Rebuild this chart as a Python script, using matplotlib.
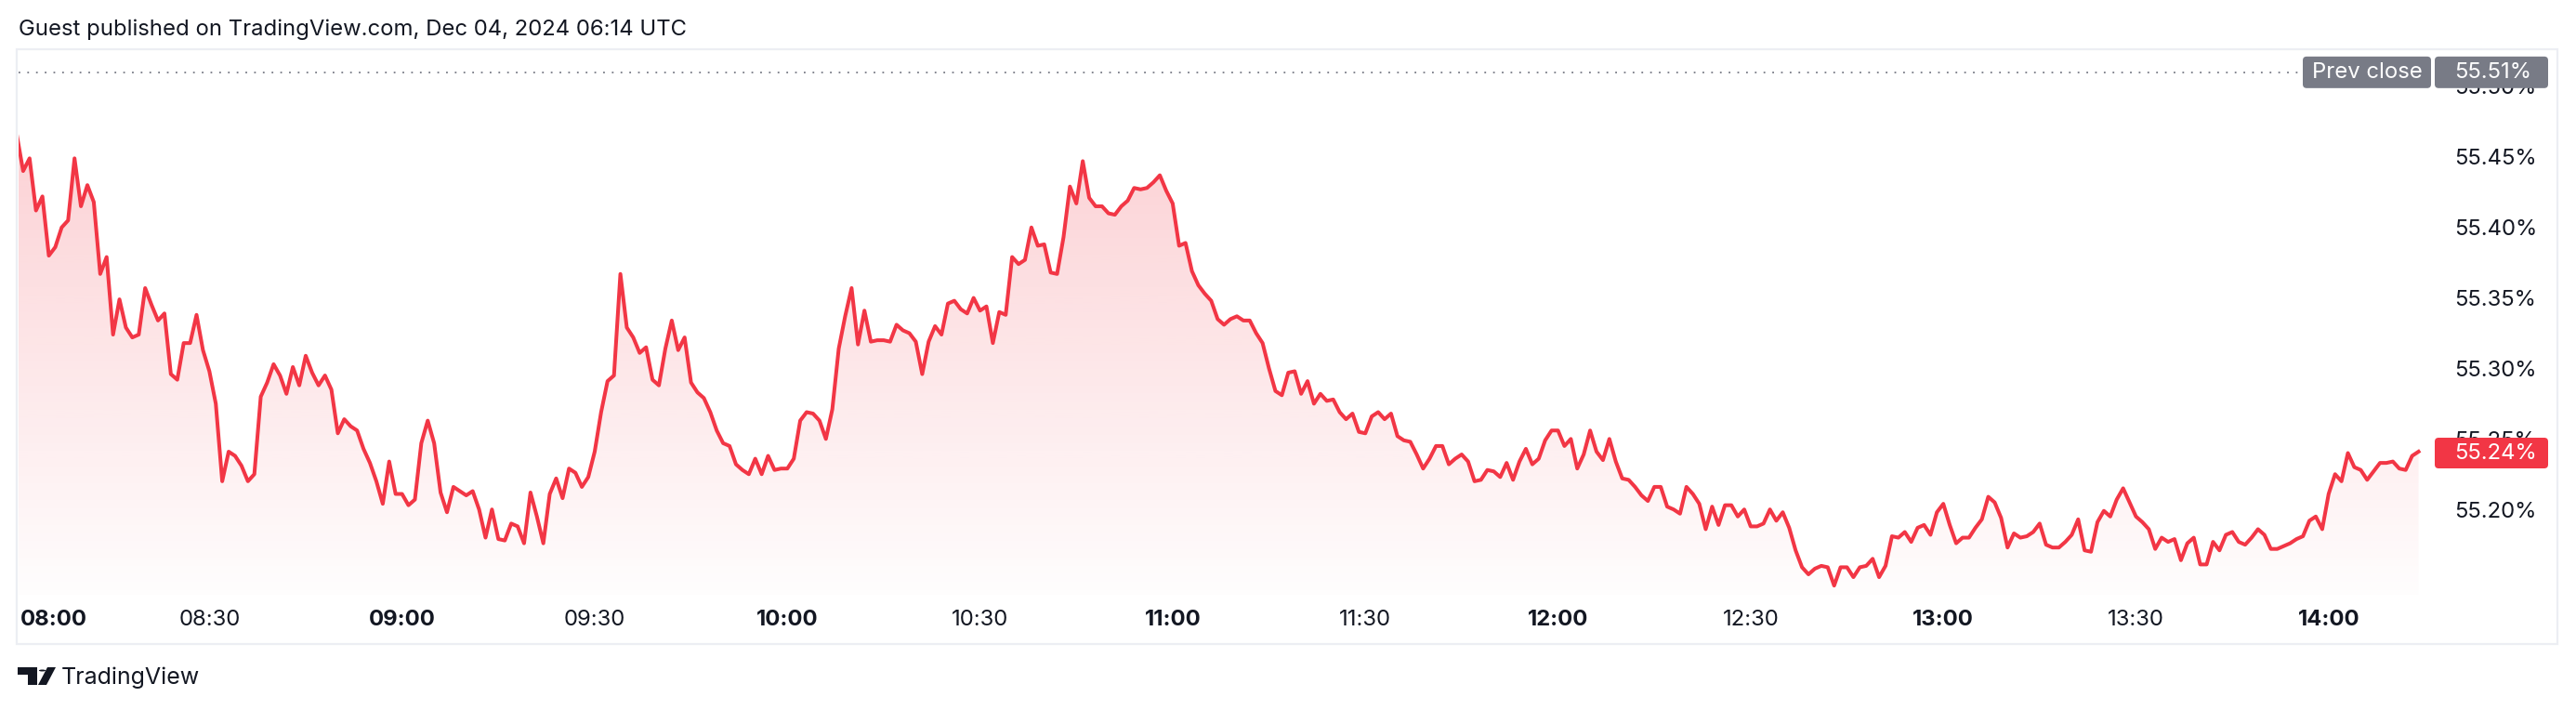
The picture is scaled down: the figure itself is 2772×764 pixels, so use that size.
import numpy as np
import matplotlib.pyplot as plt
from matplotlib.patches import FancyBboxPatch, Polygon

plt.rcParams['font.family'] = ['Inter', 'DejaVu Sans']

# 1-minute closes from 08:00 (local time)
values = [
    55.466, 55.440, 55.449, 55.412, 55.422, 55.380, 55.386, 55.400, 55.405, 55.449,
    55.415, 55.430, 55.418, 55.367, 55.379, 55.324, 55.349, 55.329, 55.322, 55.324,
    55.357, 55.345, 55.334, 55.339, 55.296, 55.292, 55.318, 55.318, 55.338, 55.313,
    55.298, 55.275, 55.220, 55.241, 55.238, 55.231, 55.220, 55.225, 55.280, 55.290,
    55.303, 55.295, 55.282, 55.301, 55.288, 55.309, 55.297, 55.288, 55.295, 55.285,
    55.254, 55.264, 55.259, 55.256, 55.243, 55.233, 55.220, 55.204, 55.234, 55.211,
    55.211, 55.203, 55.207, 55.247, 55.263, 55.247, 55.212, 55.198, 55.216, 55.213,
    55.210, 55.213, 55.200, 55.180, 55.200, 55.179, 55.178, 55.190, 55.188, 55.176,
    55.212, 55.195, 55.176, 55.211, 55.222, 55.208, 55.229, 55.226, 55.216, 55.223,
    55.241, 55.269, 55.291, 55.295, 55.367, 55.329, 55.322, 55.311, 55.315, 55.292,
    55.288, 55.314, 55.334, 55.313, 55.322, 55.290, 55.283, 55.279, 55.269, 55.256,
    55.247, 55.245, 55.232, 55.228, 55.225, 55.236, 55.225, 55.238, 55.228, 55.229,
    55.229, 55.236, 55.263, 55.269, 55.268, 55.263, 55.250, 55.271, 55.314, 55.337,
    55.357, 55.317, 55.341, 55.319, 55.320, 55.320, 55.319, 55.331, 55.327, 55.325,
    55.319, 55.296, 55.319, 55.330, 55.324, 55.346, 55.348, 55.342, 55.339, 55.350,
    55.341, 55.344, 55.318, 55.340, 55.338, 55.379, 55.374, 55.377, 55.400, 55.387,
    55.388, 55.368, 55.367, 55.393, 55.429, 55.417, 55.447, 55.421, 55.415, 55.415,
    55.410, 55.409, 55.415, 55.419, 55.428, 55.427, 55.428, 55.432, 55.437, 55.426,
    55.417, 55.387, 55.389, 55.369, 55.359, 55.353, 55.348, 55.335, 55.331, 55.335,
    55.337, 55.334, 55.334, 55.325, 55.318, 55.300, 55.284, 55.281, 55.297, 55.298,
    55.282, 55.291, 55.275, 55.282, 55.277, 55.278, 55.269, 55.264, 55.268, 55.255,
    55.254, 55.266, 55.269, 55.264, 55.268, 55.252, 55.249, 55.248, 55.239, 55.229,
    55.236, 55.245, 55.245, 55.232, 55.236, 55.239, 55.234, 55.220, 55.221, 55.228,
    55.227, 55.223, 55.233, 55.221, 55.234, 55.243, 55.232, 55.236, 55.249, 55.256,
    55.256, 55.245, 55.250, 55.229, 55.239, 55.256, 55.241, 55.235, 55.250, 55.234,
    55.222, 55.221, 55.216, 55.210, 55.206, 55.216, 55.216, 55.202, 55.200, 55.197,
    55.216, 55.211, 55.204, 55.186, 55.202, 55.189, 55.203, 55.203, 55.195, 55.200,
    55.188, 55.188, 55.190, 55.200, 55.192, 55.198, 55.187, 55.171, 55.159, 55.154,
    55.158, 55.160, 55.159, 55.146, 55.159, 55.159, 55.152, 55.159, 55.160, 55.165,
    55.152, 55.160, 55.181, 55.180, 55.184, 55.177, 55.187, 55.189, 55.182, 55.198,
    55.204, 55.189, 55.176, 55.180, 55.180, 55.187, 55.193, 55.209, 55.205, 55.194,
    55.173, 55.183, 55.180, 55.181, 55.184, 55.190, 55.175, 55.173, 55.173, 55.177,
    55.182, 55.193, 55.171, 55.170, 55.191, 55.199, 55.195, 55.207, 55.215, 55.205,
    55.195, 55.191, 55.186, 55.172, 55.180, 55.177, 55.179, 55.164, 55.176, 55.180,
    55.161, 55.161, 55.177, 55.171, 55.182, 55.184, 55.177, 55.175, 55.180, 55.186,
    55.182, 55.172, 55.172, 55.174, 55.176, 55.179, 55.181, 55.192, 55.195, 55.186,
    55.211, 55.225, 55.220, 55.240, 55.230, 55.228, 55.221, 55.227, 55.233, 55.233,
    55.234, 55.229, 55.228, 55.238, 55.241,
]
prev_close = 55.51
last_price = 55.24
y_ticks = [55.20, 55.25, 55.30, 55.35, 55.40, 55.45, 55.50]
x_tick_minutes = [30, 60, 90, 120, 150, 180, 210, 240, 270, 300, 330, 360]
x_tick_labels = ["08:30", "09:00", "09:30", "10:00", "10:30", "11:00",
                 "11:30", "12:00", "12:30", "13:00", "13:30", "14:00"]
first_label = "08:00"
title = "Guest published on TradingView.com, Dec 04, 2024 06:14 UTC"

RED = "#f23645"
GREY = "#787b86"
TXT = "#131722"
FS = 17.2
W, H = 2772, 764


def fx(px):
    return px / W


def fy(py):
    return 1 - py / H


fig = plt.figure(figsize=(W / 100, H / 100), dpi=100)
fig.patch.set_facecolor("white")

# outer chart frame
fig.add_artist(plt.Rectangle((fx(18), fy(693)), fx(2752) - fx(18), fy(53) - fy(693),
                             transform=fig.transFigure, fill=False,
                             edgecolor="#eceef3", lw=1.6))

ax = fig.add_axes([fx(20), fy(640), fx(2615) - fx(20), fy(54) - fy(640)])
for s in ax.spines.values():
    s.set_visible(False)

minutes = np.arange(len(values))
ymin, ymax = 55.1395, 55.5257
x0, x1 = 0.29, 375.8

# gradient area fill
poly = ax.fill_between(minutes, values, ymin, facecolor="none", edgecolor="none")
grad = np.zeros((256, 1, 4))
grad[..., 0] = 242 / 255
grad[..., 1] = 54 / 255
grad[..., 2] = 69 / 255
grad[..., 3] = np.linspace(0.23, 0.01, 256)[:, None]
im = ax.imshow(grad, extent=[x0, x1, ymin, max(values)], aspect="auto",
               origin="upper", zorder=1)
im.set_clip_path(poly.get_paths()[0], transform=ax.transData)

ax.plot(minutes, values, color=RED, lw=2.9, zorder=3)
ax.axhline(prev_close, color=GREY, lw=1.3, ls=(0, (1, 4.2)), zorder=2)

ax.set_xlim(x0, x1)
ax.set_ylim(ymin, ymax)

ax.set_xticks(x_tick_minutes)
ax.set_xticklabels(x_tick_labels)
ax.tick_params(axis="x", length=0, pad=11.5, labelsize=FS, labelcolor=TXT)
for lab in ax.get_xticklabels():
    if lab.get_text().endswith(":00"):
        lab.set_fontweight("bold")
ax.annotate(first_label, xy=(0, 0), xycoords="axes fraction", xytext=(1, -11.5),
            textcoords="offset points", ha="left", va="top", fontsize=FS,
            fontweight="bold", color=TXT)

ax.yaxis.tick_right()
ax.set_yticks(y_ticks)
ax.set_yticklabels([f"{t:.2f}%" for t in y_ticks])
ax.tick_params(axis="y", length=0, pad=18.5, labelsize=FS, labelcolor=TXT)


def ypix(v):
    return fig.transFigure.inverted().transform(ax.transData.transform((x0, v)))[1]


def label_box(xl, xr, v, color, h=34):
    yc = ypix(v)
    hh = h / H
    box = FancyBboxPatch((fx(xl), yc - hh / 2), fx(xr) - fx(xl), hh,
                         boxstyle="round,pad=0,rounding_size=0.0015",
                         mutation_aspect=W / H, transform=fig.transFigure,
                         facecolor=color, edgecolor="none", zorder=5)
    fig.add_artist(box)
    return yc


yc = label_box(2478, 2616, prev_close, GREY)
label_box(2620, 2742, prev_close, GREY)
fig.text(fx(2547), yc, "Prev close", ha="center", va="center", color="white",
         fontsize=FS, zorder=6)
fig.text(fx(2641), yc, f"{prev_close:.2f}%", ha="left", va="center", color="white",
         fontsize=FS, zorder=6)

yc = label_box(2620, 2742, last_price, RED, h=33)
fig.text(fx(2641), yc, f"{last_price:.2f}%", ha="left", va="center", color="white",
         fontsize=FS, zorder=6)

fig.text(fx(20), fy(32), title, ha="left", va="center", fontsize=FS, color=TXT)

# TradingView logo + wordmark
logo = [
    Polygon([(fx(19), fy(718)), (fx(40), fy(718)), (fx(40), fy(737)), (fx(30), fy(737)),
             (fx(30), fy(726)), (fx(19), fy(726))], closed=True),
    Polygon([(fx(51), fy(718)), (fx(60), fy(718)), (fx(50), fy(737)), (fx(41), fy(737))],
            closed=True),
]
for p in logo:
    p.set_transform(fig.transFigure)
    p.set_facecolor(TXT)
    p.set_edgecolor("none")
    fig.add_artist(p)
fig.add_artist(plt.Circle((fx(45.5), fy(721.5)), 3.6 / W, transform=fig.transFigure,
                          facecolor=TXT, edgecolor="none"))
fig.text(fx(66), fy(729), "TradingView", ha="left", va="center", fontsize=18, color=TXT)

fig.savefig("out.png", dpi=100)
